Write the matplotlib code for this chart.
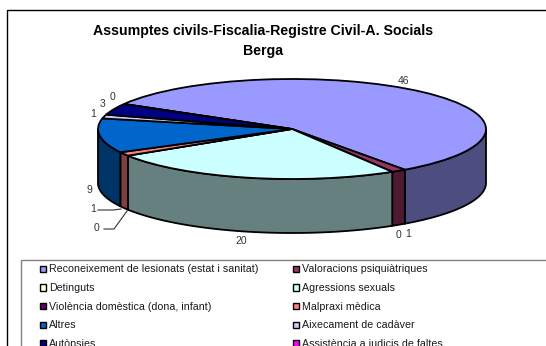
#!/usr/bin/env python3
"""Excel style 3D pie chart with a clipped legend box."""

import numpy as np
import matplotlib
matplotlib.use("Agg")
import matplotlib.pyplot as plt
from matplotlib.patches import Rectangle

plt.rcParams['font.family'] = ['Liberation Sans', 'DejaVu Sans']

title = "Assumptes civils-Fiscalia-Registre Civil-A. Socials\nBerga"
categories = ["Reconeixement de lesionats (estat i sanitat)", "Valoracions psiquiàtriques",
              "Detinguts", "Agressions sexuals",
              "Violència domèstica (dona, infant)", "Malpraxi mèdica",
              "Altres", "Aixecament de cadàver",
              "Autòpsies", "Assistència a judicis de faltes"]
values = [46, 1, 0, 20, 0, 1, 9, 1, 3, 0]
top_colors = ["#9999FF", "#993366", "#FFFFCC", "#CCFFFF", "#660066",
              "#FF8080", "#0066CC", "#CCCCFF", "#000080", "#FF00FF"]
side_colors = ["#4D4D80", "#4D1933", "#808066", "#668080", "#330033",
               "#804040", "#003366", "#666680", "#000040", "#800080"]

# pixel layout of the pie
W, H = 546, 346
cx, cy, rx, ry = 292, 129, 194, 50
depth = 54 / ry
start_angle = 150

fig = plt.figure(figsize=(W / 100, H / 100), dpi=100)
ax = fig.add_axes([0, 0, 1, 1])

ax.pie(values, colors=top_colors, startangle=start_angle, counterclock=False,
       wedgeprops=dict(edgecolor="black", linewidth=1.3, zorder=3), radius=1)
ax.set_aspect("auto")
ax.set_xlim(-cx / rx, (W - cx) / rx)
ax.set_ylim((cy - H) / ry, cy / ry)
ax.axis("off")

# side wall, only the front half of the rim shows
edges = start_angle - np.cumsum([0] + values) / sum(values) * 360
for val, a0, a1, col in zip(values, edges[:-1], edges[1:], side_colors):
    if val == 0:
        continue
    # wrap to the lower half: angles from -180 to 0
    for shift in (0, 360, -360):
        lo = max(a1 + shift, -180)
        hi = min(a0 + shift, 0)
        if lo < hi:
            t = np.radians(np.linspace(hi, lo, 80))
            xs = np.cos(t)
            ys = np.sin(t)
            ax.fill(np.r_[xs, xs[::-1]], np.r_[ys, ys[::-1] - depth],
                    facecolor=col, edgecolor="black", linewidth=1.3, zorder=2)


def px(x, y):
    return (x - cx) / rx, (cy - y) / ry


# value labels, placed by hand like the original
label_pos = [(404, 81), (408, 234), (399, 235), (241, 241), (97, 228),
             (93, 209), (89, 190), (93, 114), (103, 104), (113, 97)]
for val, (x, y) in zip(values, label_pos):
    ax.text(*px(x, y), str(val), fontsize=7.5, color="#333333",
            ha="center", va="center", zorder=5)

# leader lines for the two thin slices
for path in ([(98, 210), (113, 210), (121, 209)], [(104, 229), (114, 229), (127, 211)]):
    pts = [px(*p) for p in path]
    ax.plot(*zip(*pts), color="#333333", linewidth=0.8, zorder=4)

ax.text(*px(263, 31), title.split("\n")[0], fontsize=10.2,
        fontweight="bold", ha="center", va="center", color="black")
ax.text(*px(263, 51), title.split("\n")[1], fontsize=10.2,
        fontweight="bold", ha="center", va="center", color="black")

# outer frame and legend box run off the canvas
bg = fig.add_axes([0, 0, 1, 1], zorder=5)
bg.set_xlim(0, W)
bg.set_ylim(H, 0)
bg.axis("off")
bg.patch.set_alpha(0)
bg.add_patch(Rectangle((7, 10), W, H, fill=False, edgecolor="black", linewidth=1.0))
bg.add_patch(Rectangle((21, 260), W, H, facecolor="white", edgecolor="#808080", linewidth=1.0))

rows = [269.5, 288, 306.5, 325.5, 344]
for i, (name, col) in enumerate(zip(categories, top_colors)):
    row = rows[i // 2]
    sw_x, txt_x = (39.5, 49) if i % 2 == 0 else (292.5, 302)
    bg.add_patch(Rectangle((sw_x, row - 4), 6.5, 6.5, facecolor=col,
                           edgecolor="black", linewidth=1.0))
    bg.text(txt_x, row, name, fontsize=7.7, color="#1a1a1a", ha="left", va="center")

fig.savefig("out.png", dpi=100)
